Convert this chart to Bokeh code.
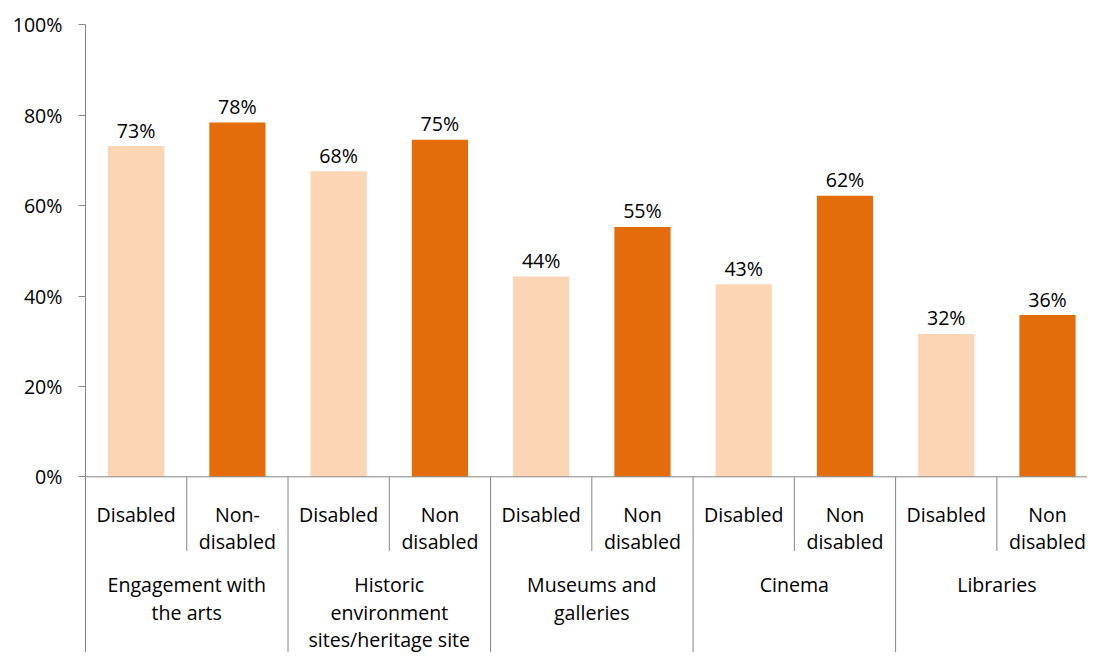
from bokeh.plotting import figure
from bokeh.models import Range1d, FixedTicker, NumeralTickFormatter, Span, ColumnDataSource
from bokeh.core.properties import value
from bokeh.embed import file_html
from bokeh.resources import INLINE

# ---- data ----
groups = ["Engagement with\nthe arts",
          "Historic\nenvironment\nsites/heritage site",
          "Museums and\ngalleries",
          "Cinema",
          "Libraries"]
bar_labels = ["Disabled", "Non-\ndisabled",
              "Disabled", "Non\ndisabled",
              "Disabled", "Non\ndisabled",
              "Disabled", "Non\ndisabled",
              "Disabled", "Non\ndisabled"]
disabled = [73.2, 67.6, 44.3, 42.6, 31.6]
non_disabled = [78.4, 74.6, 55.3, 62.2, 35.8]
y_ticks = [0, 0.2, 0.4, 0.6, 0.8, 1.0]

# ---- style ----
LIGHT = "#FCD5B5"
DARK = "#E46C0A"
GREY = "#868686"
FONT = "Open Sans"
FS = "19.6px"

PX = 451.9                 # pixels per unit of y
ZERO = 476.3               # pixel row of 0%
TOP = 10                   # frame top
H = 652
y_end = 1 + (ZERO - PX - TOP) / PX
y_start = -(H - ZERO) / PX
x_end = 9.895

p = figure(width=1087, height=H,
           x_range=Range1d(0, x_end), y_range=Range1d(y_start, y_end),
           output_backend="svg", toolbar_location=None, x_axis_location=None,
           min_border_left=85, min_border_right=0, min_border_top=TOP, min_border_bottom=0)
p.outline_line_color = None
p.xgrid.visible = False
p.ygrid.visible = False
p.background_fill_color = "white"
p.border_fill_color = "white"

# bars
xs, vals, cols = [], [], []
for g in range(len(groups)):
    xs += [2 * g + 0.5, 2 * g + 1.5]
    vals += [disabled[g] / 100, non_disabled[g] / 100]
    cols += [LIGHT, DARK]
src = ColumnDataSource(dict(x=xs, top=vals, color=cols,
                            lab=[f"{round(v * 100)}%" for v in vals],
                            ly=[v + 16 / PX for v in vals]))
p.vbar(x="x", top="top", bottom=0, width=0.555, fill_color="color", line_color=None, source=src)
p.text(x="x", y="ly", text="lab", source=src, text_align="center", text_baseline="alphabetic",
       text_font=value(FONT), text_font_size=FS, text_color="black")

# y axis
ax = p.yaxis[0]
ax.ticker = FixedTicker(ticks=y_ticks)
ax.formatter = NumeralTickFormatter(format="0%")
ax.bounds = (y_start, 1.0)
ax.axis_line_color = GREY
ax.major_tick_line_color = GREY
ax.major_tick_out = 7
ax.major_tick_in = 0
ax.minor_tick_line_color = None
ax.major_label_text_font = FONT
ax.major_label_text_font_size = FS
ax.major_label_text_color = "black"
ax.major_label_standoff = 16

# baseline at zero
p.add_layout(Span(location=0, dimension="width", line_color=GREY, line_width=1))

# category separators
inner_x = [2 * g + 1 for g in range(len(groups))]
outer_x = [2 * g for g in range(1, len(groups) + 1)]
p.segment(x0=inner_x, y0=[0] * len(inner_x), x1=inner_x, y1=[-74.2 / PX] * len(inner_x),
          line_color=GREY, line_width=1)
p.segment(x0=outer_x, y0=[0] * len(outer_x), x1=outer_x, y1=[y_start] * len(outer_x),
          line_color=GREY, line_width=1)

# category labels
LINE = 27.2 / PX
tx, ty, tt = [], [], []
for i, lab in enumerate(bar_labels):
    for j, line in enumerate(lab.split("\n")):
        tx.append(i + 0.5)
        ty.append(-37.8 / PX - j * LINE)
        tt.append(line)
for g, lab in enumerate(groups):
    for j, line in enumerate(lab.split("\n")):
        tx.append(2 * g + 1)
        ty.append(-108.0 / PX - j * LINE)
        tt.append(line)
p.text(x=tx, y=ty, text=tt, text_align="center", text_baseline="alphabetic",
       text_font=value(FONT), text_font_size=FS, text_color="black")

open("out.html", "w").write(file_html(p, INLINE))
